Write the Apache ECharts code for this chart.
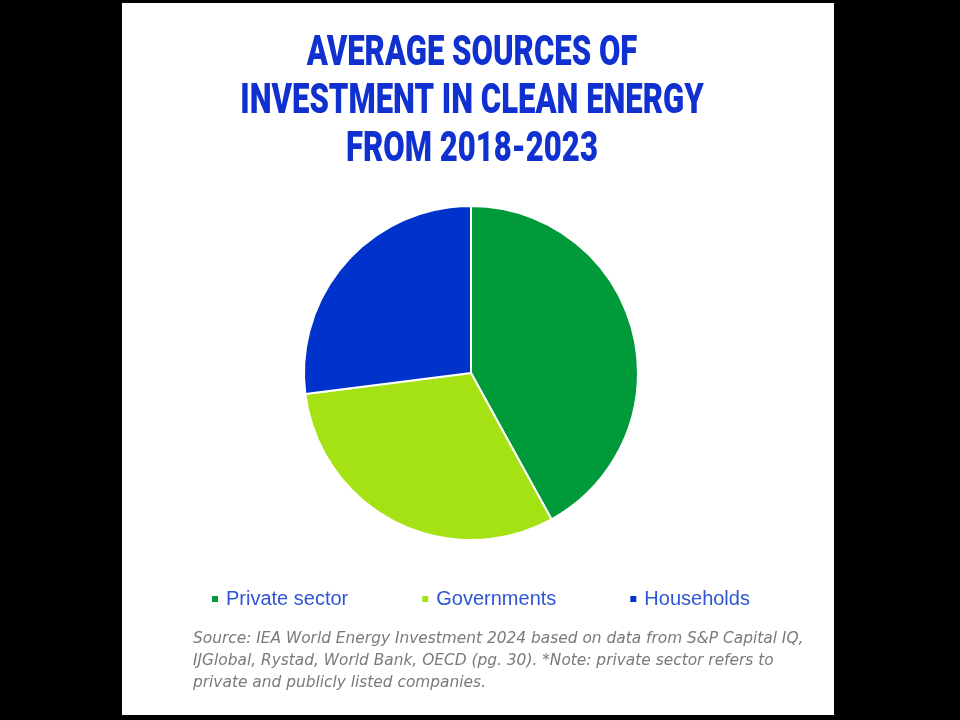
<!DOCTYPE html>
<html>
<head>
<meta charset="utf-8">
<script src="https://cdn.jsdelivr.net/npm/echarts@6/dist/echarts.min.js"></script>
<style>html,body{margin:0;padding:0;background:#000;}#c{width:960px;height:720px;}</style>
</head>
<body>
<div id="c"></div>
<script>
const titleLines = ['AVERAGE SOURCES OF', 'INVESTMENT IN CLEAN ENERGY', 'FROM 2018-2023'];
const categories = ['Private sector', 'Governments', 'Households'];
const shares = [42, 31, 27];
const colors = ['#009A3A', '#A4E214', '#0033CC'];
const sourceLines = [
  'Source: IEA World Energy Investment 2024 based on data from S&P Capital IQ,',
  'IJGlobal, Rystad, World Bank, OECD (pg. 30). *Note: private sector refers to',
  'private and publicly listed companies.'
];

const titleGraphics = titleLines.map((t, i) => ({
  type: 'text',
  x: 472, y: 54 + i * 48,
  scaleX: 0.74,
  style: {
    text: t,
    fontFamily: 'Roboto', fontWeight: 900, fontSize: 42,
    fill: '#1030D0', textAlign: 'center', textVerticalAlign: 'middle'
  }
}));

const chart = echarts.init(document.getElementById('c'));
chart.setOption({
  backgroundColor: '#000',
  animation: false,
  color: colors,
  graphic: [{
    type: 'rect', z: -10, silent: true,
    shape: { x: 122, y: 3, width: 712, height: 712 },
    style: { fill: '#fff' }
  }].concat(titleGraphics),
  title: [{
    text: sourceLines.join('\n'),
    left: 193, top: 628, padding: 0,
    textStyle: {
      fontFamily: 'DejaVu Sans', fontStyle: 'italic', fontWeight: 'normal', fontSize: 15.4,
      lineHeight: 22, color: '#7a7a7a'
    }
  }],
  legend: {
    data: categories,
    left: 205, top: 584,
    itemWidth: 8, itemHeight: 8, itemGap: 72,
    icon: 'rect',
    textStyle: { fontFamily: 'Liberation Sans', fontSize: 20, color: '#2F55D4', padding: [0, 0, 0, 2] }
  },
  series: [{
    type: 'pie',
    center: [471, 373],
    radius: 167,
    startAngle: 90,
    clockwise: true,
    label: { show: false },
    labelLine: { show: false },
    itemStyle: { borderColor: '#fff', borderWidth: 2 },
    data: categories.map((c, i) => ({ name: c, value: shares[i] }))
  }]
});
</script>
</body>
</html>
